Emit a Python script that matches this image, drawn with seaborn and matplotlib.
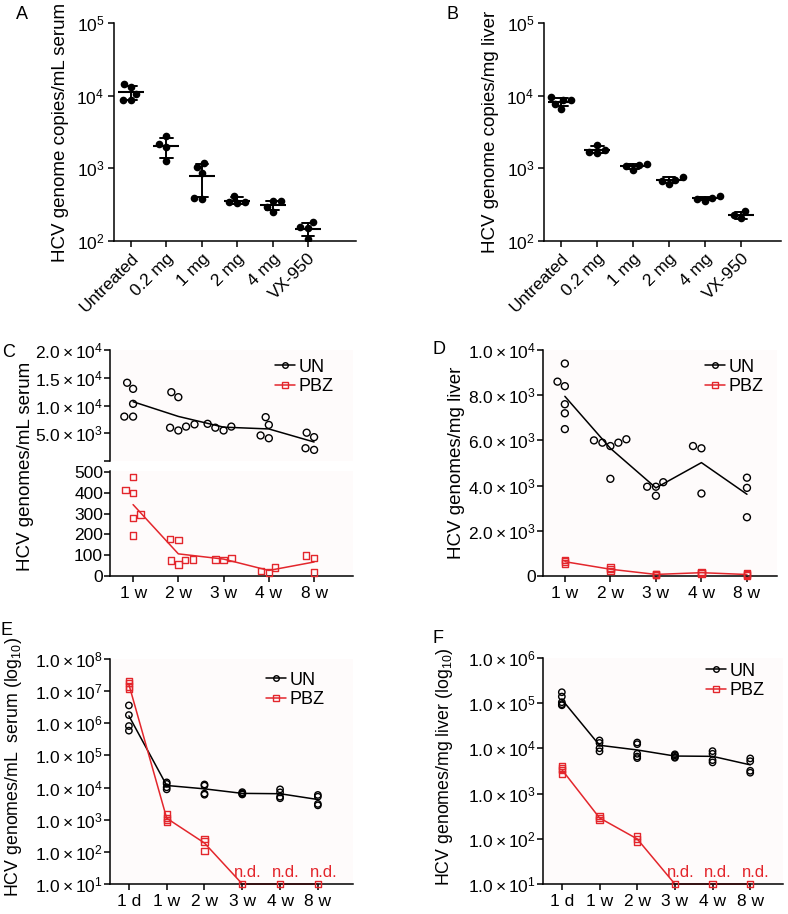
import numpy as np
import pandas as pd
import matplotlib
matplotlib.use('Agg')
import matplotlib.pyplot as plt
from matplotlib.lines import Line2D
from matplotlib.ticker import FixedLocator, FuncFormatter, NullLocator, LogFormatterSciNotation
import seaborn as sns

# values
doses = ['Untreated', '0.2 mg', '1 mg', '2 mg', '4 mg', 'VX-950']
serum_copies = [[14500, 13200, 10600, 8800, 8800],
                [2750, 2150, 1950, 1250],
                [1180, 1050, 870, 385, 380],
                [420, 345, 340, 335],
                [350, 350, 295, 250],
                [180, 155, 150, 108]]
liver_copies = [[9500, 8700, 8600, 7800, 6600],
                [2100, 1800, 1700, 1650],
                [1150, 1120, 1080, 950],
                [760, 700, 680, 600],
                [410, 395, 380, 355],
                [255, 225, 205]]

weeks = ['1 w', '2 w', '3 w', '4 w', '8 w']
serum_un = [[13000, 14100, 10300, 8000, 8000],
            [12400, 11500, 6200, 5500, 6600, 6000],
            [6200, 5500, 6700, 6000],
            [7900, 6500, 4100, 4600],
            [5100, 4300, 2000, 2300]]
serum_pbz = [[475, 400, 415, 295, 280, 195],
             [178, 174, 77, 56, 80, 74],
             [87, 77, 80],
             [40, 16, 24],
             [98, 88, 16]]
liver_un = [[9400, 8400, 8600, 7600, 7200, 6500],
            [6050, 5900, 6000, 5900, 5750, 4300],
            [4150, 3950, 3950, 3550],
            [5750, 5650, 3650],
            [4350, 3900, 2600]]
liver_pbz = [[700, 640, 560], [380, 300, 220], [100, 60, 50], [190, 140, 110], [110, 60, 30]]

times = ['1 d', '1 w', '2 w', '3 w', '4 w', '8 w']
nd = 10  # not detected -> drawn on the axis floor
nd_times = ['3 w', '4 w', '8 w']
serum_un_log = [[3.6e6, 1.8e6, 8.2e5, 5.9e5],
                [14500, 13000, 10200, 8800],
                [12500, 11500, 6500, 6000],
                [7200, 6700, 6400, 6100],
                [8800, 7100, 5200, 4650],
                [5900, 5200, 3100, 2800]]
serum_pbz_log = [[2.1e7, 1.8e7, 1.4e7, 1.15e7], [1500, 1150, 950, 850], [250, 210, 105], [nd], [nd], [nd]]
liver_un_log = [[1.75e5, 1.4e5, 1.05e5, 9.5e4, 9.0e4],
                [15000, 13200, 10100, 8600],
                [13500, 12400, 7600, 6600, 6100],
                [7400, 7000, 6500, 6200],
                [8700, 7600, 5500, 4900],
                [6000, 5200, 3200, 2900]]
liver_pbz_log = [[4000, 3600, 3300, 2700], [320, 290, 260], [115, 98, 85], [nd], [nd], [nd]]

RED = '#e3262c'
LABEL_FS = 13.5
TICK_FS = 12.5

sns.set_style('ticks')
plt.rcParams['font.family'] = ['Liberation Sans', 'DejaVu Sans']
plt.rcParams['mathtext.fontset'] = 'custom'
plt.rcParams['mathtext.rm'] = 'Liberation Sans'
plt.rcParams['mathtext.it'] = 'Liberation Sans:italic'
plt.rcParams['mathtext.bf'] = 'Liberation Sans:bold'
plt.rcParams.update({'axes.edgecolor': 'black', 'axes.linewidth': 1.1,
                     'xtick.color': 'black', 'ytick.color': 'black',
                     'text.color': 'black', 'axes.labelcolor': 'black'})

W, H = 788, 914
fig = plt.figure(figsize=(W / 100, H / 100), dpi=100)


def px_axes(left, top, right, bottom):
    return fig.add_axes([left / W, 1 - bottom / H, (right - left) / W, (bottom - top) / H])


def long_df(labels, groups):
    rows = [(lab, v) for lab, vals in zip(labels, groups) for v in vals]
    return pd.DataFrame(rows, columns=['group', 'value'])


def style(ax, pad=1, face='white'):
    sns.despine(ax=ax)
    ax.set_facecolor(face)
    ax.tick_params(direction='out', length=4, width=1.1, labelsize=TICK_FS, pad=pad)
    ax.set_xlabel('')
    ax.set_ylabel('')


def sci_label(v, pos):
    if v <= 0:
        return '0'
    e = int(np.floor(np.log10(v) + 1e-9))
    return r'$\mathregular{%.1f\times10^{%d}}$' % (v / 10 ** e, e)


def dot_panel(ax, groups, ylabel, xmax):
    df = long_df(doses, groups)
    sns.swarmplot(data=df, x='group', y='value', order=doses, color='black', size=5.5, ax=ax, zorder=3)
    sns.pointplot(data=df, x='group', y='value', order=doses, errorbar='sd', capsize=0.35,
                  color='black', marker='_', markersize=19, markeredgewidth=1.5, linestyle='none',
                  err_kws={'linewidth': 1.4}, ax=ax)
    style(ax, pad=3)
    ax.set_yscale('log')
    ax.set_ylim(1e2, 1e5)
    ax.yaxis.set_major_locator(FixedLocator([1e2, 1e3, 1e4, 1e5]))
    ax.yaxis.set_major_formatter(LogFormatterSciNotation())
    ax.yaxis.set_minor_locator(NullLocator())
    ax.set_xlim(-0.48, xmax)
    ax.set_ylabel(ylabel, fontsize=LABEL_FS, labelpad=5)
    plt.setp(ax.get_xticklabels(), rotation=45, ha='right', rotation_mode='anchor')


def time_series(ax, labels, groups, color, marker, size, swarm=True):
    df = long_df(labels, groups)
    sns.pointplot(data=df, x='group', y='value', order=labels, errorbar=None, color=color,
                  marker='', linewidth=1.1, ax=ax, clip_on=False)
    kws = dict(data=df, x='group', y='value', order=labels, color=color, marker=marker, size=size,
               edgecolor=color, linewidth=1.0, facecolor='none', ax=ax, clip_on=False, zorder=4)
    if swarm:
        sns.swarmplot(**kws)
    else:
        sns.stripplot(jitter=False, **kws)
    ax.collections[-1].set_facecolor('none')


def add_legend(ax, anchor):
    handles = [Line2D([], [], color='black', marker='o', mfc='none', ms=4, lw=1.1, mew=1),
               Line2D([], [], color=RED, marker='s', mfc='none', ms=4, lw=1.1, mew=1)]
    ax.legend(handles, ['UN', 'PBZ'], loc='upper right', bbox_to_anchor=anchor, frameon=False,
              fontsize=13, handlelength=1.1, handletextpad=0.2, labelspacing=0.15,
              borderpad=0.2, borderaxespad=0)


FACE = '#fefbfb'

# A / B
ax_a = px_axes(114, 23, 356, 241)
dot_panel(ax_a, serum_copies, 'HCV genome copies/mL serum', 6.36)
ax_b = px_axes(544, 23, 781, 241)
dot_panel(ax_b, liver_copies, 'HCV genome copies/mg liver', 6.11)

# C (broken axis)
ax_cu = px_axes(110, 350, 353, 461)
ax_cl = px_axes(110, 471, 353, 576)
time_series(ax_cu, weeks, serum_un, 'black', 'o', 5)
time_series(ax_cl, weeks, serum_pbz, RED, 's', 4.6)
for ax in (ax_cu, ax_cl):
    style(ax, face=FACE)
    ax.set_xlim(-0.51, 4.86)
ax_cu.set_ylim(0, 20000)
ax_cu.yaxis.set_major_locator(FixedLocator([0, 5000, 10000, 15000, 20000]))
ax_cu.yaxis.set_major_formatter(FuncFormatter(lambda v, p: '' if v == 0 else sci_label(v, p)))
ax_cu.spines['bottom'].set_visible(False)
ax_cu.tick_params(axis='x', bottom=False, labelbottom=False)
ax_cl.set_ylim(0, 505)
ax_cl.yaxis.set_major_locator(FixedLocator([0, 100, 200, 300, 400, 500]))
ax_cl.tick_params(axis='x', pad=3)
fig.text(26 / W, 1 - 466 / H, 'HCV genomes/mL serum', rotation=90, ha='center', va='center',
         fontsize=LABEL_FS)
add_legend(ax_cu, (0.934, 0.955))

# D
ax_d = px_axes(543, 350, 777, 576)
time_series(ax_d, weeks, liver_un, 'black', 'o', 5)
time_series(ax_d, weeks, liver_pbz, RED, 's', 4.6, swarm=False)
style(ax_d, face=FACE)
ax_d.set_xlim(-0.48, 4.66)
ax_d.set_ylim(0, 10000)
ax_d.yaxis.set_major_locator(FixedLocator([0, 2000, 4000, 6000, 8000, 10000]))
ax_d.yaxis.set_major_formatter(FuncFormatter(sci_label))
ax_d.tick_params(axis='x', pad=3)
ax_d.set_ylabel('HCV genomes/mg liver', fontsize=LABEL_FS, labelpad=2)
add_legend(ax_d, (0.96, 0.978))


# E / F (log)
def log_panel(ax, un, pbz, top_exp, ylabel, xmax, anchor):
    time_series(ax, times, un, 'black', 'o', 4.6, swarm=False)
    time_series(ax, times, pbz, RED, 's', 4.4, swarm=False)
    style(ax, face=FACE)
    ax.set_yscale('log')
    ax.set_ylim(10, 10.0 ** top_exp)
    ax.yaxis.set_major_locator(FixedLocator([10.0 ** k for k in range(1, top_exp + 1)]))
    ax.yaxis.set_minor_locator(NullLocator())
    ax.yaxis.set_major_formatter(FuncFormatter(sci_label))
    ax.set_xlim(-0.5, xmax)
    ax.tick_params(axis='x', pad=3)
    ax.set_ylabel(ylabel, fontsize=12.8, labelpad=2)
    for t in nd_times:
        ax.annotate('n.d.', (times.index(t), nd), xytext=(4, 5), textcoords='offset points',
                    ha='center', va='baseline', color=RED, fontsize=12)
    add_legend(ax, anchor)


ax_e = px_axes(110, 659, 353, 884)
log_panel(ax_e, serum_un_log, serum_pbz_log, 8, r'HCV genomes/mL  serum (log$_{10}$)', 5.93, (0.897, 0.96))
ax_f = px_axes(543, 658, 783, 884)
log_panel(ax_f, liver_un_log, liver_pbz_log, 6, r'HCV genomes/mg liver (log$_{10}$)', 5.87, (0.94, 0.995))
# keep the rotated labels next to the tick labels, nudged up a little
for ax, x_px in ((ax_e, 24), (ax_f, 455)):
    bb = ax.get_position()
    ax.yaxis.set_label_coords((x_px / W - bb.x0) / bb.width, 0.52)

# panel letters
for letter, (x, y) in {'A': (16, 6), 'B': (447, 6), 'C': (2, 344), 'D': (433, 341),
                       'E': (0, 622), 'F': (433, 630)}.items():
    fig.text(x / W, 1 - y / H, letter, ha='left', va='top', fontsize=13)

fig.savefig('out.png', dpi=100)
